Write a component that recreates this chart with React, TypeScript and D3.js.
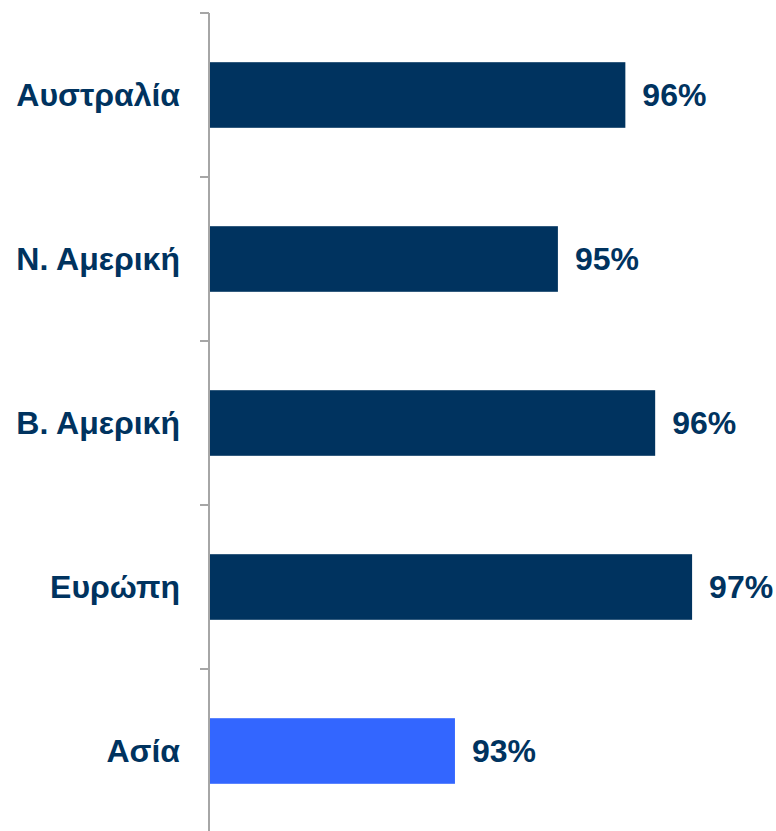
import React from "react";
import * as d3 from "d3";

const categories = ["Αυστραλία", "Ν. Αμερική", "Β. Αμερική", "Ευρώπη", "Ασία"];
const values = [95.85, 94.9, 96.27, 96.79, 93.45];
const barColors = ["#00335F", "#00335F", "#00335F", "#00335F", "#3366FF"];

const W = 776;
const H = 831;

export default function App() {
  const x = d3.scaleLinear().domain([90, 100]).range([210, 920]);
  const y = d3
    .scaleBand<string>()
    .domain(categories)
    .range([13, 13 + 164 * 5])
    .paddingInner(0.6)
    .paddingOuter(0.3);
  const step = y.step();
  const bounds = categories.map((c) => (y(c) as number) - step * 0.3);
  bounds.push(bounds[bounds.length - 1] + step);
  const fmt = d3.format(".0f");
  const font = "'Liberation Sans', Arial, sans-serif";
  return (
    <svg
      width={W}
      height={H}
      style={{ position: "absolute", left: 0, top: 0, background: "#fff" }}
      fontFamily={font}
    >
      {categories.map((c, i) => {
        const y0 = y(c) as number;
        const bw = y.bandwidth();
        return (
          <g key={c}>
            <rect
              x={x(90)}
              y={y0}
              width={x(values[i]) - x(90)}
              height={bw}
              fill={barColors[i]}
            />
            <text
              x={x(values[i]) + 17}
              y={y0 + bw / 2}
              dy="0.34em"
              fontSize={32}
              fontWeight="bold"
              fill="#00335F"
            >
              {fmt(values[i])}%
            </text>
            <text
              x={180}
              y={y0 + bw / 2}
              dy="0.34em"
              textAnchor="end"
              fontSize={32}
              fontWeight="bold"
              fill="#00335F"
            >
              {c}
            </text>
          </g>
        );
      })}
      <line x1={x(90) - 1} x2={x(90) - 1} y1={bounds[0]} y2={H + 5} stroke="#a6a6a6" strokeWidth={2} />
      {bounds.map((b, i) => (
        <line key={i} x1={200} x2={x(90) - 1} y1={b} y2={b} stroke="#a6a6a6" strokeWidth={2} />
      ))}
    </svg>
  );
}
